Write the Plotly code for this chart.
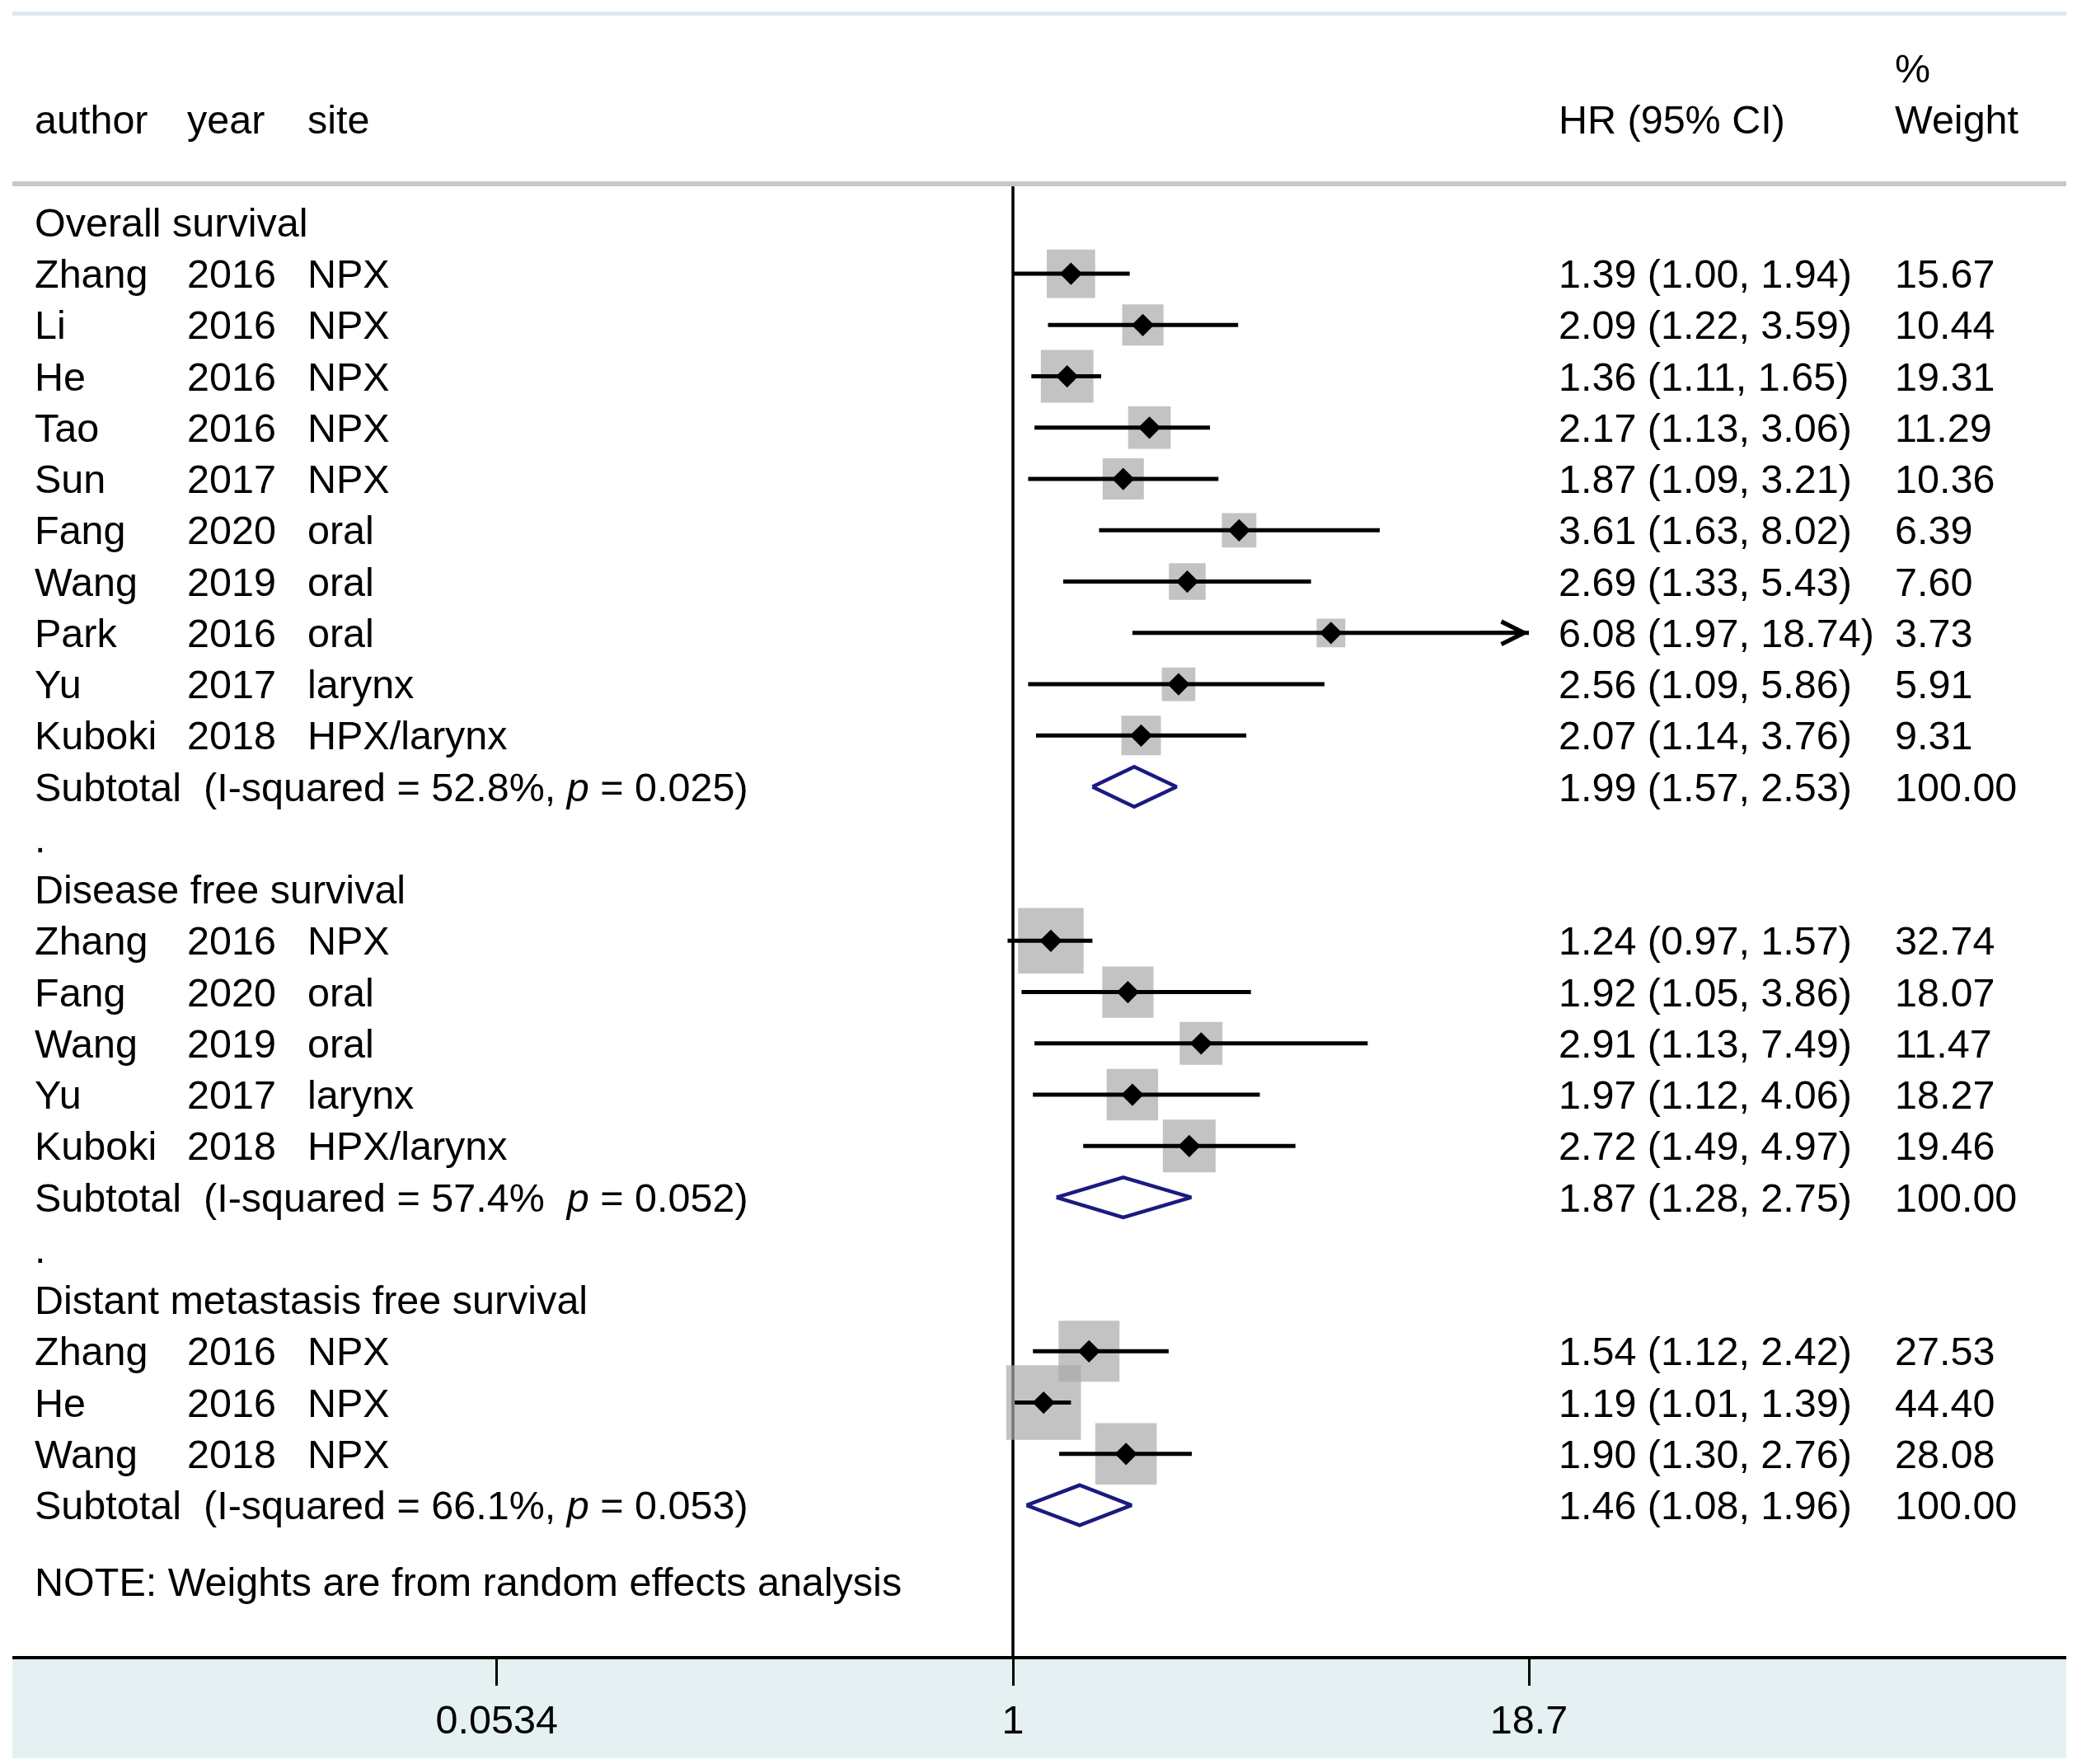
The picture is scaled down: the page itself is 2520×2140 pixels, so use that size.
import math
import plotly.graph_objects as go

W, H = 2520, 2140

# ---------------- data ----------------
group_names = ["Overall survival", "Disease free survival", "Distant metastasis free survival"]

os_author = ["Zhang", "Li", "He", "Tao", "Sun", "Fang", "Wang", "Park", "Yu", "Kuboki"]
os_year = [2016, 2016, 2016, 2016, 2017, 2020, 2019, 2016, 2017, 2018]
os_site = ["NPX", "NPX", "NPX", "NPX", "NPX", "oral", "oral", "oral", "larynx", "HPX/larynx"]
os_hr = [1.39, 2.09, 1.36, 2.17, 1.87, 3.61, 2.69, 6.08, 2.56, 2.07]
os_lo = [1.00, 1.22, 1.11, 1.13, 1.09, 1.63, 1.33, 1.97, 1.09, 1.14]
os_hi = [1.94, 3.59, 1.65, 3.06, 3.21, 8.02, 5.43, 18.74, 5.86, 3.76]
os_wt = [15.67, 10.44, 19.31, 11.29, 10.36, 6.39, 7.60, 3.73, 5.91, 9.31]

dfs_author = ["Zhang", "Fang", "Wang", "Yu", "Kuboki"]
dfs_year = [2016, 2020, 2019, 2017, 2018]
dfs_site = ["NPX", "oral", "oral", "larynx", "HPX/larynx"]
dfs_hr = [1.24, 1.92, 2.91, 1.97, 2.72]
dfs_lo = [0.97, 1.05, 1.13, 1.12, 1.49]
dfs_hi = [1.57, 3.86, 7.49, 4.06, 4.97]
dfs_wt = [32.74, 18.07, 11.47, 18.27, 19.46]

dmfs_author = ["Zhang", "He", "Wang"]
dmfs_year = [2016, 2016, 2018]
dmfs_site = ["NPX", "NPX", "NPX"]
dmfs_hr = [1.54, 1.19, 1.90]
dmfs_lo = [1.12, 1.01, 1.30]
dmfs_hi = [2.42, 1.39, 2.76]
dmfs_wt = [27.53, 44.40, 28.08]

sub_est = [1.99, 1.87, 1.46]
sub_lo = [1.57, 1.28, 1.08]
sub_hi = [2.53, 2.75, 1.96]
sub_i2 = [52.8, 57.4, 66.1]
sub_p = [0.025, 0.052, 0.053]
sub_sep = [",", "\u00a0", ","]
sub_wt = [100.00, 100.00, 100.00]

x_tickvals = [0.0534, 1, 18.7]
x_ticktext = ["0.0534", "1", "18.7"]
null_value = 1

note_text = "NOTE: Weights are from random effects analysis"
head_cols = ["author", "year", "site"]
head_stat = "HR (95% CI)"
head_wt = ["%", "Weight"]

# ---------------- layout geometry (pixels) ----------------
PX_NULL = 1229.0
PX_DEC = 492.2
ROW0 = 269.8
ROWH = 62.25
PL, PR, PT, PB = 15, 2507, 223, 2009

xrange = [(PL - PX_NULL) / PX_DEC, (PR - PX_NULL) / PX_DEC]
yrange = [(PB - ROW0) / ROWH, (PT - ROW0) / ROWH]

COL_AUTH, COL_YEAR, COL_SITE, COL_STAT, COL_HR, COL_WT = 40, 225, 371, 245, 1889, 2297
FONT = "Liberation Sans, Arial, Helvetica, sans-serif"
FS = 48.5
NAVY = "#1A1A80"
GRAY = "#AAAAAA"

groups = [
    (os_author, os_year, os_site, os_hr, os_lo, os_hi, os_wt),
    (dfs_author, dfs_year, dfs_site, dfs_hr, dfs_lo, dfs_hi, dfs_wt),
    (dmfs_author, dmfs_year, dmfs_site, dmfs_hr, dmfs_lo, dmfs_hi, dmfs_wt),
]

annotations = []


def txt(xpx, row, text, anchor="left"):
    # rows are placed in paper space so headers above the plot area stay visible
    annotations.append(dict(
        xref="paper", x=xpx / W, yref="paper", y=1 - (ROW0 + ROWH * row) / H,
        text=text, showarrow=False,
        xanchor=anchor, yanchor="middle", font=dict(family=FONT, size=FS, color="black"),
    ))


xmax_tick = max(x_tickvals)

st_x, st_y, st_size = [], [], []
ci_x, ci_y = [], []
arrows = []
sub_rows = []

row = 0
for gi, (au, yr, si, hr, lo, hi, wt) in enumerate(groups):
    if gi > 0:
        txt(COL_AUTH, row, ".")
        row += 1
    txt(COL_AUTH, row, group_names[gi])
    row += 1
    for i in range(len(au)):
        txt(COL_AUTH, row, au[i])
        txt(COL_YEAR, row, str(yr[i]))
        txt(COL_SITE, row, si[i])
        txt(COL_HR, row, f"{hr[i]:.2f} ({lo[i]:.2f}, {hi[i]:.2f})")
        txt(COL_WT, row, f"{wt[i]:.2f}")
        st_x.append(hr[i])
        st_y.append(row)
        st_size.append(12 + 11.8 * math.sqrt(wt[i]))
        ci_x += [lo[i], min(hi[i], xmax_tick), None]
        ci_y += [row, row, None]
        if hi[i] > xmax_tick:
            arrows.append(row)
        row += 1
    txt(COL_AUTH, row, "Subtotal")
    txt(COL_STAT, row, f"(I-squared = {sub_i2[gi]:.1f}%{sub_sep[gi]} <i>p</i> = {sub_p[gi]:.3f})")
    txt(COL_HR, row, f"{sub_est[gi]:.2f} ({sub_lo[gi]:.2f}, {sub_hi[gi]:.2f})")
    txt(COL_WT, row, f"{sub_wt[gi]:.2f}")
    sub_rows.append(row)
    row += 1

txt(COL_AUTH, row + 0.5, note_text)

# headers
txt(COL_AUTH, -2, head_cols[0])
txt(COL_YEAR, -2, head_cols[1])
txt(COL_SITE, -2, head_cols[2])
txt(COL_HR, -2, head_stat)
txt(COL_WT, -3, head_wt[0])
txt(COL_WT, -2, head_wt[1])

for r in arrows:
    annotations.append(dict(
        xref="x", yref="y", x=math.log10(xmax_tick), y=r, ax=-60, ay=0,
        showarrow=True, arrowhead=5, arrowsize=1.2, arrowwidth=4.5, arrowcolor="black",
        text="", standoff=0,
    ))

fig = go.Figure()

# null line at HR = 1 spanning the whole plot area
fig.add_trace(go.Scatter(
    x=[null_value, null_value], y=yrange, mode="lines", hoverinfo="skip", cliponaxis=False,
    line=dict(color="black", width=3.5),
))
fig.add_trace(go.Scatter(
    x=st_x, y=st_y, mode="markers", hoverinfo="skip", cliponaxis=False,
    marker=dict(symbol="square", size=st_size, color=GRAY, line=dict(width=0)),
))
fig.add_trace(go.Scatter(
    x=ci_x, y=ci_y, mode="lines", hoverinfo="skip", cliponaxis=False,
    line=dict(color="black", width=5),
))
fig.add_trace(go.Scatter(
    x=st_x, y=st_y, mode="markers", hoverinfo="skip", cliponaxis=False,
    marker=dict(symbol="diamond", size=21, color="black", line=dict(width=0)),
))

DH = 0.39
for gi, r in enumerate(sub_rows):
    fig.add_trace(go.Scatter(
        x=[sub_lo[gi], sub_est[gi], sub_hi[gi], sub_est[gi], sub_lo[gi]],
        y=[r, r - DH, r, r + DH, r],
        mode="lines", fill="toself", fillcolor="white", hoverinfo="skip",
        line=dict(color=NAVY, width=4.5), cliponaxis=False,
    ))

shapes = [
    dict(type="rect", xref="paper", yref="paper", x0=PL / W, x1=PR / W,
         y0=1 - 19 / H, y1=1 - 14 / H, fillcolor="#DDE9EE", line=dict(width=0), layer="below"),
    dict(type="rect", xref="paper", yref="paper", x0=PL / W, x1=PR / W,
         y0=1 - 2133 / H, y1=1 - 2013 / H, fillcolor="#E4F0F2", line=dict(width=0), layer="below"),
    dict(type="line", xref="paper", yref="paper", x0=PL / W, x1=PR / W,
         y0=1 - PT / H, y1=1 - PT / H, line=dict(color="#C8C8C8", width=6)),
]

fig.update_layout(
    width=W, height=H, autosize=False,
    margin=dict(l=0, r=0, t=0, b=0, pad=0),
    paper_bgcolor="white", plot_bgcolor="white",
    showlegend=False,
    font=dict(family=FONT, size=FS, color="black"),
    xaxis=dict(
        type="log", range=xrange, domain=[PL / W, PR / W],
        showline=True, linecolor="black", linewidth=4, mirror=False,
        ticks="outside", ticklen=32, tickwidth=3, tickcolor="black",
        tickvals=x_tickvals, ticktext=x_ticktext,
        tickfont=dict(family=FONT, size=FS, color="black"),
        showgrid=False, zeroline=False, fixedrange=True,
    ),
    yaxis=dict(range=yrange, domain=[1 - PB / H, 1 - PT / H], visible=False,
               showgrid=False, zeroline=False, fixedrange=True),
    shapes=shapes,
    annotations=annotations,
)

fig.write_html(
    "out.html",
    config={"displayModeBar": False},
    post_script="document.body.style.margin='0px';document.body.style.overflow='hidden';",
)
